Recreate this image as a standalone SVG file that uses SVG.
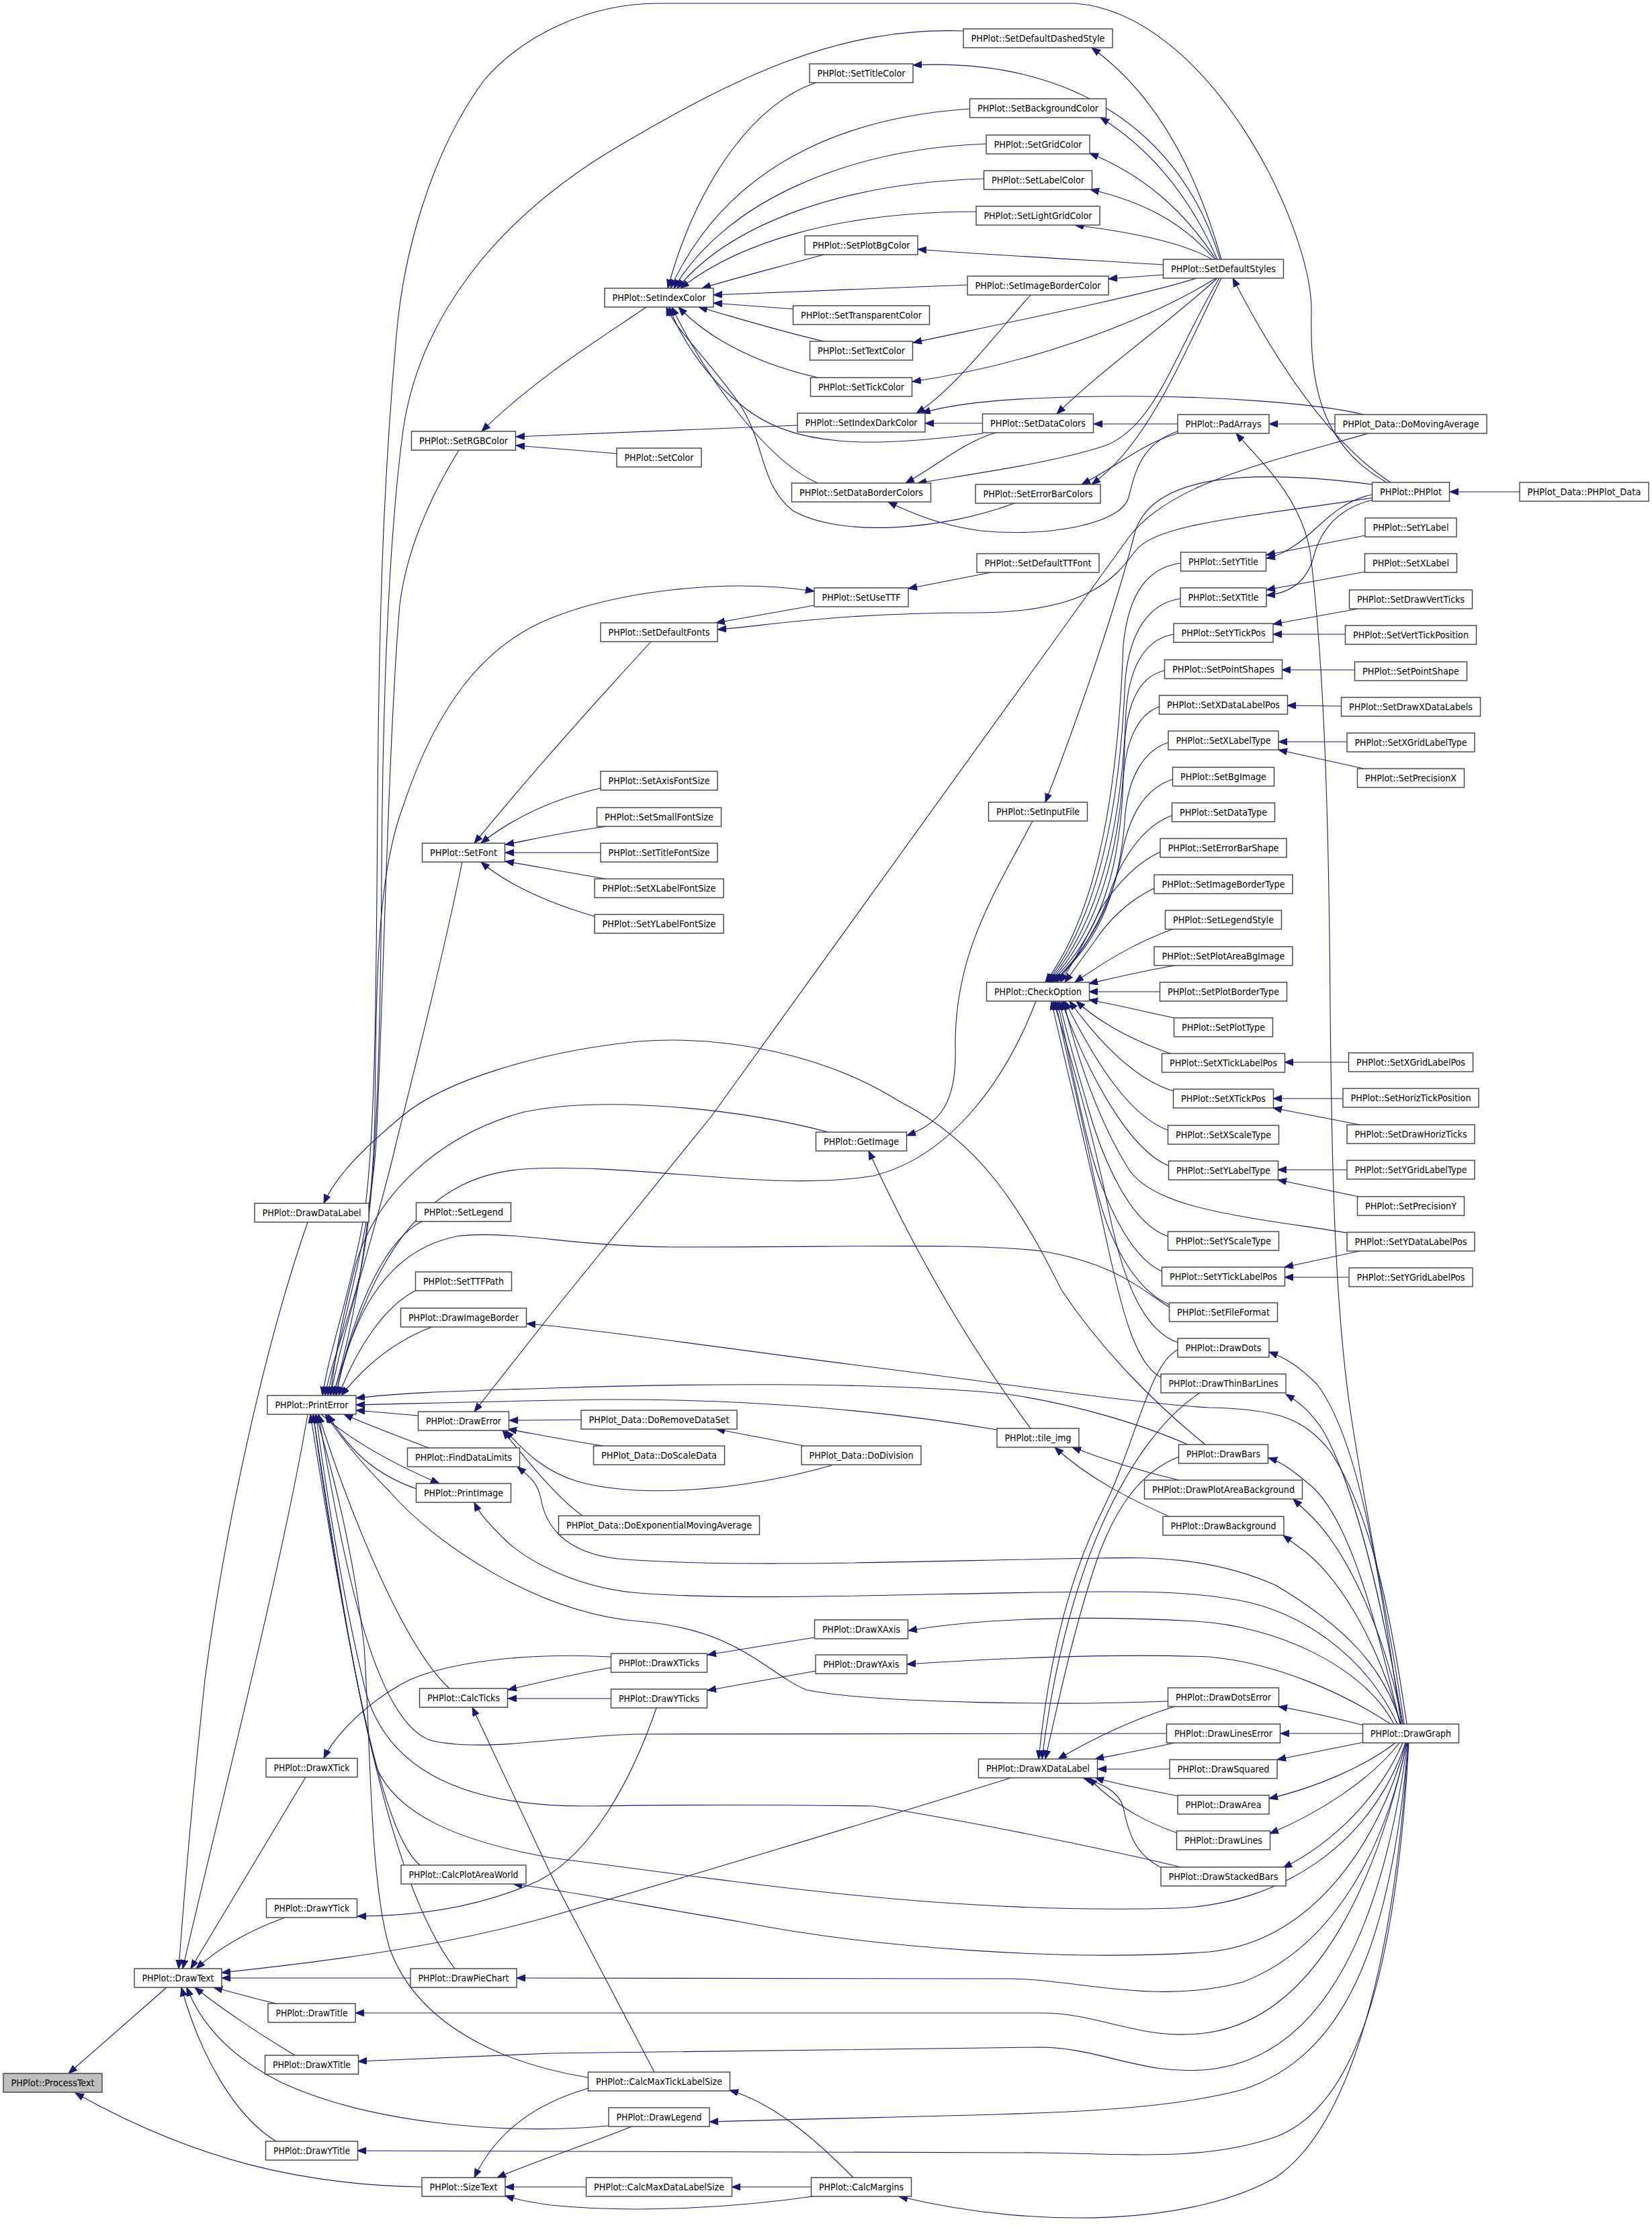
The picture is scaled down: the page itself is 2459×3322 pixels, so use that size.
<svg xmlns="http://www.w3.org/2000/svg" width="2459" height="3322" viewBox="0 0 2459 3322">
<style>
.node rect{fill:#fff;stroke:#404040;stroke-width:1.4}
.node.root rect{fill:#bfbfbf}
.node text{font-family:"DejaVu Sans Condensed","DejaVu Sans",sans-serif;font-size:14px;fill:#000;text-anchor:middle}
.edges path{fill:none;stroke:#191970;stroke-width:1.1;marker-end:url(#arr)}
</style>
<defs>
<marker id="arr" markerUnits="userSpaceOnUse" markerWidth="14" markerHeight="11" refX="13" refY="5" orient="auto"><path d="M0,0 L13,5 L0,10 z" fill="#191970" stroke="#191970" stroke-width="1"/></marker>
</defs>
<rect x="0" y="0" width="2459" height="3322" fill="#fff"/>
<g class="edges" id="edges">
<path d="M248,2958 L102,3086"/>
<path d="M628,3255 C450,3252 290,3215 112,3115"/>
<path d="M458,2105 C420,2330 320,2720 272,2930"/>
<path d="M458,1819 C395,2000 335,2270 305,2500 C290,2640 274,2820 266,2930"/>
<path d="M455,2645 L284,2930"/>
<path d="M424,2854 C380,2870 330,2895 292,2930"/>
<path d="M1505,2646 C1300,2710 1000,2800 820,2852 C650,2900 460,2922 330,2936"/>
<path d="M611,2944 L330,2944"/>
<path d="M411,2982 C380,2975 350,2966 318,2958"/>
<path d="M439,3059 C390,3030 330,2990 290,2958"/>
<path d="M906,3164 C750,3178 550,3160 420,3100 C340,3060 298,3010 278,2958"/>
<path d="M411,3187 C350,3150 298,3060 270,2958"/>
<path d="M2064,718 C1960,660 1950,560 1952,466 C1955,340 1800,20 1600,5 L980,5 C880,5 780,50 720,120 C640,230 600,380 590,500 C572,700 564,900 562,1200 C560,1500 558,1720 540,1820 C520,1930 490,2010 480,2077"/>
<path d="M1434,46 C1250,40 1100,110 900,230 C740,330 625,470 600,640 C580,790 570,1000 568,1300 C566,1600 558,1800 535,1900 C515,1980 492,2030 484,2077"/>
<path d="M683,670 C640,740 605,820 595,900 C578,1100 570,1500 560,1700 C550,1850 505,1980 488,2077"/>
<path d="M688,1283 C660,1420 620,1580 590,1700 C560,1830 515,1960 492,2077"/>
<path d="M496,2077 C530,1960 556,1800 558,1660 C560,1450 562,1300 600,1200 C650,1050 720,960 820,920 C920,880 1080,860 1212,880"/>
<path d="M630,1817 C580,1840 530,1930 500,2077"/>
<path d="M620,1920 C570,1945 530,2010 504,2077"/>
<path d="M643,1975 C590,1995 545,2030 508,2077"/>
<path d="M1233,1685 C1100,1650 900,1630 780,1655 C650,1690 560,1780 530,1880 C512,1950 498,2020 492,2077"/>
<path d="M1542,1490 C1500,1600 1420,1720 1300,1750 C1150,1775 950,1730 780,1740 C640,1750 560,1850 496,2077"/>
<path d="M1741,1946 C1700,1920 1660,1880 1550,1862 C1450,1850 1300,1856 1000,1856 C850,1855 760,1830 680,1840 C580,1860 525,1950 500,2077"/>
<path d="M1768,2150 C1700,2120 1600,2090 1500,2075 C1300,2055 1000,2060 820,2066 C700,2070 600,2072 530,2081"/>
<path d="M1484,2128 C1350,2105 1150,2082 900,2083 C750,2085 620,2089 530,2091"/>
<path d="M623,2107 L530,2099"/>
<path d="M638,2155 C600,2140 550,2122 512,2105"/>
<path d="M478,2105 C530,2150 600,2185 654,2208"/>
<path d="M620,2216 C560,2195 520,2160 488,2105"/>
<path d="M1739,2532 C1600,2538 1300,2536 1200,2515 C1140,2490 1100,2425 950,2413 C800,2400 650,2300 580,2220 C530,2170 505,2135 484,2105"/>
<path d="M1737,2580 L951,2581 C850,2582 720,2610 640,2590 C560,2560 515,2350 474,2105"/>
<path d="M1758,2779 C1700,2765 1500,2720 1300,2688 C1150,2686 1000,2686 880,2688 C700,2690 580,2640 545,2520 C515,2400 490,2250 470,2105"/>
<path d="M2092,2594 C2040,2750 1900,2835 1750,2840 C1400,2850 1100,2800 820,2765 C680,2740 590,2700 560,2630 C525,2500 490,2260 466,2105"/>
<path d="M625,2776 C570,2730 525,2500 462,2105"/>
<path d="M677,2930 C600,2830 535,2600 466,2105"/>
<path d="M875,3092 C740,3070 620,3010 580,2900 C550,2800 552,2600 542,2450 C525,2300 492,2180 470,2105"/>
<path d="M669,2513 C600,2450 520,2250 474,2105"/>
<path d="M962,457 C900,500 800,560 717,642"/>
<path d="M1187,633 L768,650"/>
<path d="M918,675 L768,663"/>
<path d="M1215,123 C1130,150 1040,260 994,429"/>
<path d="M1443,162 C1250,175 1080,250 998,429"/>
<path d="M1468,214 C1260,222 1080,300 1003,429"/>
<path d="M1464,266 C1260,272 1090,330 1008,429"/>
<path d="M1453,315 C1250,315 1100,360 1013,429"/>
<path d="M1226,379 C1150,400 1100,412 1045,429"/>
<path d="M1440,424 L1062,439"/>
<path d="M1181,460 L1062,451"/>
<path d="M1226,508 C1150,490 1100,474 1040,457"/>
<path d="M1218,562 C1140,545 1060,510 1010,457"/>
<path d="M1217,719 C1150,690 1060,580 1000,457"/>
<path d="M1463,645 C1300,665 1180,670 1100,600 C1050,560 1012,500 996,457"/>
<path d="M1510,749 C1400,790 1250,800 1180,760 C1130,720 1140,660 1100,600 C1050,530 1005,490 992,457"/>
<path d="M1818,386 C1780,250 1720,140 1625,71"/>
<path d="M1816,386 C1760,200 1600,85 1359,97"/>
<path d="M1812,386 C1770,290 1710,220 1638,175"/>
<path d="M1810,386 C1760,310 1700,260 1622,228"/>
<path d="M1808,386 C1760,330 1700,300 1623,282"/>
<path d="M1804,386 C1760,360 1680,345 1600,335"/>
<path d="M1731,394 C1600,386 1450,378 1366,371"/>
<path d="M1731,409 L1650,415"/>
<path d="M1781,414 C1700,440 1500,480 1359,510"/>
<path d="M1810,414 C1720,470 1550,540 1358,568"/>
<path d="M1812,414 C1740,480 1640,550 1573,616"/>
<path d="M1815,414 C1750,520 1720,640 1640,665 C1560,690 1450,705 1366,719"/>
<path d="M1818,414 C1760,530 1710,660 1625,721"/>
<path d="M2070,718 C1980,660 1900,540 1835,414"/>
<path d="M1987,631 L1889,631"/>
<path d="M1753,631 L1628,631"/>
<path d="M1753,642 C1700,660 1690,700 1680,740 C1670,780 1560,800 1460,790 C1400,782 1360,765 1322,747"/>
<path d="M1753,645 C1700,660 1670,690 1610,721"/>
<path d="M2090,2566 C2070,2420 2040,2300 2010,2100 C1985,1930 1982,1700 1980,1500 C1978,1200 1970,980 1950,820 C1935,740 1880,690 1840,645"/>
<path d="M2030,617 C1960,600 1800,588 1640,590 C1500,592 1420,600 1372,615"/>
<path d="M2037,645 C1880,690 1740,720 1680,800 L1060,1660 L820,1956 L706,2101"/>
<path d="M1534,439 C1480,500 1420,580 1364,615"/>
<path d="M1463,630 L1377,630"/>
<path d="M1482,644 C1430,660 1400,690 1348,719"/>
<path d="M2043,721 C1880,700 1720,700 1690,790 C1670,870 1620,1030 1556,1194"/>
<path d="M2043,741 C1850,770 1720,780 1690,820 C1660,860 1620,912 1450,912 C1250,912 1150,930 1068,937"/>
<path d="M2043,736 C1990,746 1960,790 1930,810 C1912,822 1900,828 1885,831"/>
<path d="M2043,744 C1990,757 1965,790 1955,830 C1945,865 1920,883 1885,886"/>
<path d="M2262,732 L2158,732"/>
<path d="M2032,797 L1885,826"/>
<path d="M2032,851 L1885,878"/>
<path d="M1212,901 L1066,927"/>
<path d="M1475,852 L1352,876"/>
<path d="M969,955 C900,1030 800,1140 706,1255"/>
<path d="M894,1173 C820,1190 760,1220 716,1255"/>
<path d="M902,1230 C830,1240 790,1250 752,1257"/>
<path d="M894,1269 L752,1269"/>
<path d="M902,1308 C830,1296 790,1288 752,1282"/>
<path d="M885,1364 C820,1345 760,1320 716,1283"/>
<path d="M1537,1222 C1480,1330 1420,1420 1422,1560 C1424,1640 1400,1672 1350,1690"/>
<path d="M1534,2126 C1440,2000 1360,1860 1293,1713"/>
<path d="M1794,2150 C1720,2090 1640,2010 1580,1920 C1520,1800 1460,1700 1340,1640 C1230,1570 1080,1540 950,1550 C800,1565 660,1610 600,1660 C540,1710 500,1750 482,1791"/>
<path d="M865,2113 L758,2114"/>
<path d="M898,2152 C850,2145 800,2135 756,2127"/>
<path d="M1238,2181 C1100,2220 950,2230 860,2205 C810,2190 780,2160 752,2129"/>
<path d="M867,2256 C830,2230 790,2180 748,2129"/>
<path d="M1197,2152 L1066,2127"/>
<path d="M2085,2566 C2060,2480 2000,2420 1900,2360 C1800,2315 1700,2318 1640,2319 C1400,2322 1100,2335 920,2320 C830,2310 810,2260 805,2230 C800,2205 785,2195 770,2183"/>
<path d="M2080,2566 C2040,2480 1960,2410 1860,2385 C1780,2368 1700,2369 1640,2369 C1400,2370 1100,2385 940,2370 C850,2360 780,2320 750,2290 C730,2270 715,2255 706,2236"/>
<path d="M2094,2566 C2070,2400 2040,2250 1980,2160 C1940,2110 1900,2097 1800,2095 C1700,2090 1500,2060 1300,2035 C1100,2010 900,1980 784,1970"/>
<path d="M2075,2566 C2030,2480 1900,2420 1780,2413 C1600,2403 1450,2410 1352,2427"/>
<path d="M2070,2566 C2000,2520 1900,2475 1800,2466 C1650,2460 1450,2470 1350,2477"/>
<path d="M1213,2437 L1053,2463"/>
<path d="M1214,2487 L1053,2516"/>
<path d="M910,2482 C850,2492 800,2505 756,2515"/>
<path d="M910,2528 L756,2528"/>
<path d="M910,2466 C800,2460 680,2470 610,2500 C550,2530 500,2580 482,2617"/>
<path d="M977,2542 C940,2650 880,2760 800,2800 C700,2845 600,2852 532,2852"/>
<path d="M974,3084 L820,2790 L703,2541"/>
<path d="M876,3108 C800,3130 740,3170 706,3241"/>
<path d="M940,3165 C880,3190 800,3215 740,3241"/>
<path d="M872,3255 L752,3255"/>
<path d="M1217,3268 C1100,3285 950,3295 820,3282 C790,3278 770,3274 752,3268"/>
<path d="M1270,3241 C1210,3180 1150,3130 1086,3111"/>
<path d="M1208,3255 L1089,3255"/>
<path d="M2096,2594 C2080,2850 2030,3150 1900,3240 C1780,3310 1550,3320 1338,3269"/>
<path d="M2094,2594 C2060,2760 1980,2900 1850,2950 C1720,2985 1600,2945 1500,2945 L769,2944"/>
<path d="M2094,2594 C2050,2800 1960,3000 1800,3025 C1700,3040 1640,2996 1550,2996 L529,2996"/>
<path d="M2095,2594 C2060,2850 1980,3060 1800,3080 C1700,3090 1640,3048 1550,3047 L820,3056 L533,3068"/>
<path d="M2096,2594 C2070,2900 2000,3060 1850,3110 C1700,3150 1500,3145 1056,3158"/>
<path d="M2097,2594 C2080,2900 2030,3130 1900,3180 C1800,3215 1700,3207 1550,3204 L532,3201"/>
<path d="M2093,2594 C2050,2750 1950,2890 1800,2905 C1600,2920 1300,2900 1100,2860 C950,2835 850,2815 764,2804"/>
<path d="M2030,2568 C1980,2555 1950,2548 1903,2540"/>
<path d="M2029,2580 L1906,2580"/>
<path d="M2030,2593 L1901,2619"/>
<path d="M2077,2594 C2030,2630 1960,2660 1889,2677"/>
<path d="M2083,2594 C2040,2650 1960,2700 1890,2729"/>
<path d="M2088,2594 C2050,2680 1980,2745 1910,2780"/>
<path d="M2086,2566 C2060,2400 2030,2150 1960,2060 C1930,2030 1910,2020 1889,2012"/>
<path d="M2088,2566 C2060,2400 2020,2220 1970,2130 C1950,2100 1935,2088 1914,2075"/>
<path d="M2084,2566 C2050,2420 2010,2260 1950,2210 C1920,2185 1905,2175 1888,2170"/>
<path d="M2088,2566 C2060,2420 2000,2300 1945,2250 L1925,2231"/>
<path d="M2085,2566 C2050,2440 1990,2340 1930,2300 L1910,2285"/>
<path d="M1755,2203 C1700,2190 1650,2175 1596,2154"/>
<path d="M1740,2257 C1680,2230 1620,2200 1570,2154"/>
<path d="M1748,2540 C1700,2555 1640,2580 1575,2618"/>
<path d="M1748,2594 C1700,2605 1660,2612 1630,2618"/>
<path d="M1741,2633 L1634,2633"/>
<path d="M1753,2673 C1700,2662 1660,2655 1630,2646"/>
<path d="M1752,2728 C1700,2710 1670,2690 1640,2665 L1620,2646"/>
<path d="M1729,2780 C1690,2760 1680,2730 1672,2690 C1665,2665 1640,2655 1612,2646"/>
<path d="M1753,2009 C1710,2030 1690,2150 1640,2250 C1590,2350 1560,2480 1546,2618"/>
<path d="M1786,2073 C1730,2110 1680,2180 1640,2270 C1600,2360 1568,2480 1551,2618"/>
<path d="M1755,2168 C1700,2190 1660,2240 1630,2330 C1600,2420 1578,2520 1556,2618"/>
<path d="M2022,906 L1895,929"/>
<path d="M2002,944 L1895,944"/>
<path d="M2016,997 L1908,997"/>
<path d="M1996,1051 L1916,1050"/>
<path d="M2005,1104 L1903,1104"/>
<path d="M2030,1144 L1903,1116"/>
<path d="M2007,1581 L1912,1581"/>
<path d="M1999,1635 L1895,1635"/>
<path d="M2024,1674 L1895,1649"/>
<path d="M2005,1741 L1902,1741"/>
<path d="M2022,1781 L1902,1756"/>
<path d="M2024,1862 L1912,1886"/>
<path d="M2008,1901 L1912,1901"/>
<path d="M1757,838 C1710,845 1680,880 1672,960 C1665,1150 1640,1350 1556,1462"/>
<path d="M1757,891 C1710,898 1682,940 1675,1010 C1668,1180 1640,1360 1558,1462"/>
<path d="M1747,944 C1700,952 1680,1000 1676,1060 C1670,1220 1640,1370 1560,1462"/>
<path d="M1733,998 C1690,1008 1676,1060 1674,1110 C1670,1250 1640,1380 1562,1462"/>
<path d="M1725,1052 C1690,1065 1675,1110 1672,1160 C1668,1290 1640,1390 1564,1462"/>
<path d="M1739,1105 C1700,1118 1680,1160 1675,1210 C1668,1320 1640,1400 1566,1462"/>
<path d="M1745,1160 C1700,1175 1680,1220 1670,1270 C1655,1350 1620,1410 1568,1462"/>
<path d="M1744,1214 C1700,1230 1670,1280 1655,1320 C1640,1370 1610,1420 1572,1462"/>
<path d="M1727,1268 C1690,1285 1660,1320 1640,1350 C1620,1390 1600,1430 1578,1462"/>
<path d="M1718,1322 C1680,1340 1650,1370 1630,1400 L1585,1462"/>
<path d="M1745,1383 C1700,1400 1660,1420 1600,1462"/>
<path d="M1750,1437 C1700,1445 1660,1455 1621,1464"/>
<path d="M1726,1476 L1621,1476"/>
<path d="M1748,1515 C1700,1505 1660,1495 1621,1488"/>
<path d="M1745,1569 C1690,1550 1640,1525 1602,1490"/>
<path d="M1747,1624 C1700,1610 1650,1570 1592,1490"/>
<path d="M1738,1682 C1680,1660 1630,1580 1585,1490"/>
<path d="M1739,1735 C1680,1710 1620,1600 1580,1490"/>
<path d="M1738,1840 C1680,1820 1640,1720 1620,1650 C1600,1580 1585,1530 1577,1490"/>
<path d="M1729,1892 C1680,1870 1640,1780 1620,1700 C1600,1620 1585,1540 1574,1490"/>
<path d="M1741,1942 C1690,1920 1650,1850 1630,1760 C1610,1660 1585,1560 1571,1490"/>
<path d="M2006,1835 C1850,1810 1720,1800 1680,1740 C1630,1660 1600,1560 1583,1490"/>
<path d="M1753,1998 C1700,1980 1670,1900 1650,1800 C1625,1680 1590,1560 1568,1490"/>
<path d="M1728,2050 C1690,2030 1670,1950 1650,1860 C1620,1720 1585,1580 1565,1490"/>
</g>
<g class="node root" id="n_ProcessText"><rect x="5" y="3086" width="147" height="28"/><text x="78.5" y="3105" textLength="124" lengthAdjust="spacingAndGlyphs">PHPlot::ProcessText</text></g>
<g class="node" id="n_DrawText"><rect x="200" y="2930" width="130" height="28"/><text x="265" y="2949" textLength="107" lengthAdjust="spacingAndGlyphs">PHPlot::DrawText</text></g>
<g class="node" id="n_DrawDataLabel"><rect x="379" y="1791" width="170" height="28"/><text x="464" y="1810" textLength="147" lengthAdjust="spacingAndGlyphs">PHPlot::DrawDataLabel</text></g>
<g class="node" id="n_PrintError"><rect x="398" y="2077" width="132" height="28"/><text x="464" y="2096" textLength="109" lengthAdjust="spacingAndGlyphs">PHPlot::PrintError</text></g>
<g class="node" id="n_DrawXTick"><rect x="396" y="2617" width="136" height="28"/><text x="464" y="2636" textLength="113" lengthAdjust="spacingAndGlyphs">PHPlot::DrawXTick</text></g>
<g class="node" id="n_DrawYTick"><rect x="396.5" y="2826" width="135" height="28"/><text x="464" y="2845" textLength="112" lengthAdjust="spacingAndGlyphs">PHPlot::DrawYTick</text></g>
<g class="node" id="n_DrawTitle"><rect x="399" y="2982" width="130" height="28"/><text x="464" y="3001" textLength="107" lengthAdjust="spacingAndGlyphs">PHPlot::DrawTitle</text></g>
<g class="node" id="n_DrawXTitle"><rect x="394.5" y="3059" width="139" height="28"/><text x="464" y="3078" textLength="116" lengthAdjust="spacingAndGlyphs">PHPlot::DrawXTitle</text></g>
<g class="node" id="n_DrawYTitle"><rect x="395.5" y="3187" width="137" height="28"/><text x="464" y="3206" textLength="114" lengthAdjust="spacingAndGlyphs">PHPlot::DrawYTitle</text></g>
<g class="node" id="n_SetRGBColor"><rect x="612.5" y="642" width="155" height="28"/><text x="690" y="661" textLength="132" lengthAdjust="spacingAndGlyphs">PHPlot::SetRGBColor</text></g>
<g class="node" id="n_SetFont"><rect x="628.5" y="1255" width="123" height="28"/><text x="690" y="1274" textLength="100" lengthAdjust="spacingAndGlyphs">PHPlot::SetFont</text></g>
<g class="node" id="n_SetLegend"><rect x="619.5" y="1790" width="141" height="28"/><text x="690" y="1809" textLength="118" lengthAdjust="spacingAndGlyphs">PHPlot::SetLegend</text></g>
<g class="node" id="n_SetTTFPath"><rect x="618.5" y="1893" width="143" height="28"/><text x="690" y="1912" textLength="120" lengthAdjust="spacingAndGlyphs">PHPlot::SetTTFPath</text></g>
<g class="node" id="n_DrawImageBorder"><rect x="596.5" y="1947" width="187" height="28"/><text x="690" y="1966" textLength="164" lengthAdjust="spacingAndGlyphs">PHPlot::DrawImageBorder</text></g>
<g class="node" id="n_DrawError"><rect x="622.5" y="2101" width="135" height="28"/><text x="690" y="2120" textLength="112" lengthAdjust="spacingAndGlyphs">PHPlot::DrawError</text></g>
<g class="node" id="n_FindDataLimits"><rect x="606.5" y="2155" width="167" height="28"/><text x="690" y="2174" textLength="144" lengthAdjust="spacingAndGlyphs">PHPlot::FindDataLimits</text></g>
<g class="node" id="n_PrintImage"><rect x="619.5" y="2208" width="141" height="28"/><text x="690" y="2227" textLength="118" lengthAdjust="spacingAndGlyphs">PHPlot::PrintImage</text></g>
<g class="node" id="n_CalcTicks"><rect x="624.5" y="2513" width="131" height="28"/><text x="690" y="2532" textLength="108" lengthAdjust="spacingAndGlyphs">PHPlot::CalcTicks</text></g>
<g class="node" id="n_CalcPlotAreaWorld"><rect x="597" y="2776" width="186" height="28"/><text x="690" y="2795" textLength="163" lengthAdjust="spacingAndGlyphs">PHPlot::CalcPlotAreaWorld</text></g>
<g class="node" id="n_DrawPieChart"><rect x="611" y="2930" width="158" height="28"/><text x="690" y="2949" textLength="135" lengthAdjust="spacingAndGlyphs">PHPlot::DrawPieChart</text></g>
<g class="node" id="n_SizeText"><rect x="628" y="3241" width="124" height="28"/><text x="690" y="3260" textLength="101" lengthAdjust="spacingAndGlyphs">PHPlot::SizeText</text></g>
<g class="node" id="n_SetIndexColor"><rect x="900" y="429" width="162" height="28"/><text x="981" y="448" textLength="139" lengthAdjust="spacingAndGlyphs">PHPlot::SetIndexColor</text></g>
<g class="node" id="n_SetColor"><rect x="918" y="667" width="126" height="28"/><text x="981" y="686" textLength="103" lengthAdjust="spacingAndGlyphs">PHPlot::SetColor</text></g>
<g class="node" id="n_SetDefaultFonts"><rect x="894" y="927" width="174" height="28"/><text x="981" y="946" textLength="151" lengthAdjust="spacingAndGlyphs">PHPlot::SetDefaultFonts</text></g>
<g class="node" id="n_SetAxisFontSize"><rect x="894" y="1148" width="174" height="28"/><text x="981" y="1167" textLength="151" lengthAdjust="spacingAndGlyphs">PHPlot::SetAxisFontSize</text></g>
<g class="node" id="n_SetSmallFontSize"><rect x="888.5" y="1202" width="185" height="28"/><text x="981" y="1221" textLength="162" lengthAdjust="spacingAndGlyphs">PHPlot::SetSmallFontSize</text></g>
<g class="node" id="n_SetTitleFontSize"><rect x="894" y="1255" width="174" height="28"/><text x="981" y="1274" textLength="151" lengthAdjust="spacingAndGlyphs">PHPlot::SetTitleFontSize</text></g>
<g class="node" id="n_SetXLabelFontSize"><rect x="885" y="1308" width="192" height="28"/><text x="981" y="1327" textLength="169" lengthAdjust="spacingAndGlyphs">PHPlot::SetXLabelFontSize</text></g>
<g class="node" id="n_SetYLabelFontSize"><rect x="885" y="1361" width="192" height="28"/><text x="981" y="1380" textLength="169" lengthAdjust="spacingAndGlyphs">PHPlot::SetYLabelFontSize</text></g>
<g class="node" id="n_DoRemoveDataSet"><rect x="865" y="2099" width="232" height="28"/><text x="981" y="2118" textLength="209" lengthAdjust="spacingAndGlyphs">PHPlot_Data::DoRemoveDataSet</text></g>
<g class="node" id="n_DoScaleData"><rect x="883.5" y="2152" width="195" height="28"/><text x="981" y="2171" textLength="172" lengthAdjust="spacingAndGlyphs">PHPlot_Data::DoScaleData</text></g>
<g class="node" id="n_DoExponentialMovingAverage"><rect x="831.5" y="2256" width="299" height="28"/><text x="981" y="2275" textLength="276" lengthAdjust="spacingAndGlyphs">PHPlot_Data::DoExponentialMovingAverage</text></g>
<g class="node" id="n_DrawXTicks"><rect x="909.5" y="2461" width="143" height="28"/><text x="981" y="2480" textLength="120" lengthAdjust="spacingAndGlyphs">PHPlot::DrawXTicks</text></g>
<g class="node" id="n_DrawYTicks"><rect x="909.5" y="2514" width="143" height="28"/><text x="981" y="2533" textLength="120" lengthAdjust="spacingAndGlyphs">PHPlot::DrawYTicks</text></g>
<g class="node" id="n_CalcMaxTickLabelSize"><rect x="875.5" y="3084" width="211" height="28"/><text x="981" y="3103" textLength="188" lengthAdjust="spacingAndGlyphs">PHPlot::CalcMaxTickLabelSize</text></g>
<g class="node" id="n_DrawLegend"><rect x="906" y="3137" width="150" height="28"/><text x="981" y="3156" textLength="127" lengthAdjust="spacingAndGlyphs">PHPlot::DrawLegend</text></g>
<g class="node" id="n_CalcMaxDataLabelSize"><rect x="872.5" y="3241" width="217" height="28"/><text x="981" y="3260" textLength="194" lengthAdjust="spacingAndGlyphs">PHPlot::CalcMaxDataLabelSize</text></g>
<g class="node" id="n_SetTitleColor"><rect x="1205" y="95" width="154" height="28"/><text x="1282" y="114" textLength="131" lengthAdjust="spacingAndGlyphs">PHPlot::SetTitleColor</text></g>
<g class="node" id="n_SetPlotBgColor"><rect x="1198" y="351" width="168" height="28"/><text x="1282" y="370" textLength="145" lengthAdjust="spacingAndGlyphs">PHPlot::SetPlotBgColor</text></g>
<g class="node" id="n_SetTransparentColor"><rect x="1180.5" y="455" width="203" height="28"/><text x="1282" y="474" textLength="180" lengthAdjust="spacingAndGlyphs">PHPlot::SetTransparentColor</text></g>
<g class="node" id="n_SetTextColor"><rect x="1205.5" y="508" width="153" height="28"/><text x="1282" y="527" textLength="130" lengthAdjust="spacingAndGlyphs">PHPlot::SetTextColor</text></g>
<g class="node" id="n_SetTickColor"><rect x="1206.5" y="562" width="151" height="28"/><text x="1282" y="581" textLength="128" lengthAdjust="spacingAndGlyphs">PHPlot::SetTickColor</text></g>
<g class="node" id="n_SetIndexDarkColor"><rect x="1187" y="615" width="190" height="28"/><text x="1282" y="634" textLength="167" lengthAdjust="spacingAndGlyphs">PHPlot::SetIndexDarkColor</text></g>
<g class="node" id="n_SetDataBorderColors"><rect x="1178.5" y="719" width="207" height="28"/><text x="1282" y="738" textLength="184" lengthAdjust="spacingAndGlyphs">PHPlot::SetDataBorderColors</text></g>
<g class="node" id="n_SetUseTTF"><rect x="1212" y="875" width="140" height="28"/><text x="1282" y="894" textLength="117" lengthAdjust="spacingAndGlyphs">PHPlot::SetUseTTF</text></g>
<g class="node" id="n_GetImage"><rect x="1214.5" y="1685" width="135" height="28"/><text x="1282" y="1704" textLength="112" lengthAdjust="spacingAndGlyphs">PHPlot::GetImage</text></g>
<g class="node" id="n_DoDivision"><rect x="1193" y="2152" width="178" height="28"/><text x="1282" y="2171" textLength="155" lengthAdjust="spacingAndGlyphs">PHPlot_Data::DoDivision</text></g>
<g class="node" id="n_DrawXAxis"><rect x="1212.5" y="2411" width="139" height="28"/><text x="1282" y="2430" textLength="116" lengthAdjust="spacingAndGlyphs">PHPlot::DrawXAxis</text></g>
<g class="node" id="n_DrawYAxis"><rect x="1214" y="2463" width="136" height="28"/><text x="1282" y="2482" textLength="113" lengthAdjust="spacingAndGlyphs">PHPlot::DrawYAxis</text></g>
<g class="node" id="n_CalcMargins"><rect x="1207.5" y="3241" width="149" height="28"/><text x="1282" y="3260" textLength="126" lengthAdjust="spacingAndGlyphs">PHPlot::CalcMargins</text></g>
<g class="node" id="n_SetDefaultDashedStyle"><rect x="1434" y="43" width="222" height="28"/><text x="1545" y="62" textLength="199" lengthAdjust="spacingAndGlyphs">PHPlot::SetDefaultDashedStyle</text></g>
<g class="node" id="n_SetBackgroundColor"><rect x="1443.5" y="147" width="203" height="28"/><text x="1545" y="166" textLength="180" lengthAdjust="spacingAndGlyphs">PHPlot::SetBackgroundColor</text></g>
<g class="node" id="n_SetGridColor"><rect x="1468" y="201" width="154" height="28"/><text x="1545" y="220" textLength="131" lengthAdjust="spacingAndGlyphs">PHPlot::SetGridColor</text></g>
<g class="node" id="n_SetLabelColor"><rect x="1464.5" y="254" width="161" height="28"/><text x="1545" y="273" textLength="138" lengthAdjust="spacingAndGlyphs">PHPlot::SetLabelColor</text></g>
<g class="node" id="n_SetLightGridColor"><rect x="1453" y="307" width="184" height="28"/><text x="1545" y="326" textLength="161" lengthAdjust="spacingAndGlyphs">PHPlot::SetLightGridColor</text></g>
<g class="node" id="n_SetImageBorderColor"><rect x="1440" y="411" width="210" height="28"/><text x="1545" y="430" textLength="187" lengthAdjust="spacingAndGlyphs">PHPlot::SetImageBorderColor</text></g>
<g class="node" id="n_SetDataColors"><rect x="1462.5" y="616" width="165" height="28"/><text x="1545" y="635" textLength="142" lengthAdjust="spacingAndGlyphs">PHPlot::SetDataColors</text></g>
<g class="node" id="n_SetErrorBarColors"><rect x="1452" y="721" width="186" height="28"/><text x="1545" y="740" textLength="163" lengthAdjust="spacingAndGlyphs">PHPlot::SetErrorBarColors</text></g>
<g class="node" id="n_SetDefaultTTFont"><rect x="1454" y="824" width="182" height="28"/><text x="1545" y="843" textLength="159" lengthAdjust="spacingAndGlyphs">PHPlot::SetDefaultTTFont</text></g>
<g class="node" id="n_SetInputFile"><rect x="1471.5" y="1194" width="147" height="28"/><text x="1545" y="1213" textLength="124" lengthAdjust="spacingAndGlyphs">PHPlot::SetInputFile</text></g>
<g class="node" id="n_CheckOption"><rect x="1468.5" y="1462" width="153" height="28"/><text x="1545" y="1481" textLength="130" lengthAdjust="spacingAndGlyphs">PHPlot::CheckOption</text></g>
<g class="node" id="n_tile_img"><rect x="1484" y="2126" width="122" height="28"/><text x="1545" y="2145" textLength="99" lengthAdjust="spacingAndGlyphs">PHPlot::tile_img</text></g>
<g class="node" id="n_DrawXDataLabel"><rect x="1456.5" y="2618" width="177" height="28"/><text x="1545" y="2637" textLength="154" lengthAdjust="spacingAndGlyphs">PHPlot::DrawXDataLabel</text></g>
<g class="node" id="n_SetDefaultStyles"><rect x="1731.5" y="386" width="179" height="28"/><text x="1821" y="405" textLength="156" lengthAdjust="spacingAndGlyphs">PHPlot::SetDefaultStyles</text></g>
<g class="node" id="n_PadArrays"><rect x="1753" y="617" width="136" height="28"/><text x="1821" y="636" textLength="113" lengthAdjust="spacingAndGlyphs">PHPlot::PadArrays</text></g>
<g class="node" id="n_SetYTitle"><rect x="1757.5" y="822" width="127" height="28"/><text x="1821" y="841" textLength="104" lengthAdjust="spacingAndGlyphs">PHPlot::SetYTitle</text></g>
<g class="node" id="n_SetXTitle"><rect x="1757" y="875" width="128" height="28"/><text x="1821" y="894" textLength="105" lengthAdjust="spacingAndGlyphs">PHPlot::SetXTitle</text></g>
<g class="node" id="n_SetYTickPos"><rect x="1747" y="928" width="148" height="28"/><text x="1821" y="947" textLength="125" lengthAdjust="spacingAndGlyphs">PHPlot::SetYTickPos</text></g>
<g class="node" id="n_SetPointShapes"><rect x="1733.5" y="982" width="175" height="28"/><text x="1821" y="1001" textLength="152" lengthAdjust="spacingAndGlyphs">PHPlot::SetPointShapes</text></g>
<g class="node" id="n_SetXDataLabelPos"><rect x="1725.5" y="1035" width="191" height="28"/><text x="1821" y="1054" textLength="168" lengthAdjust="spacingAndGlyphs">PHPlot::SetXDataLabelPos</text></g>
<g class="node" id="n_SetXLabelType"><rect x="1739" y="1088" width="164" height="28"/><text x="1821" y="1107" textLength="141" lengthAdjust="spacingAndGlyphs">PHPlot::SetXLabelType</text></g>
<g class="node" id="n_SetBgImage"><rect x="1745.5" y="1142" width="151" height="28"/><text x="1821" y="1161" textLength="128" lengthAdjust="spacingAndGlyphs">PHPlot::SetBgImage</text></g>
<g class="node" id="n_SetDataType"><rect x="1744.5" y="1195" width="153" height="28"/><text x="1821" y="1214" textLength="130" lengthAdjust="spacingAndGlyphs">PHPlot::SetDataType</text></g>
<g class="node" id="n_SetErrorBarShape"><rect x="1727" y="1248" width="188" height="28"/><text x="1821" y="1267" textLength="165" lengthAdjust="spacingAndGlyphs">PHPlot::SetErrorBarShape</text></g>
<g class="node" id="n_SetImageBorderType"><rect x="1718" y="1302" width="206" height="28"/><text x="1821" y="1321" textLength="183" lengthAdjust="spacingAndGlyphs">PHPlot::SetImageBorderType</text></g>
<g class="node" id="n_SetLegendStyle"><rect x="1734.5" y="1355" width="173" height="28"/><text x="1821" y="1374" textLength="150" lengthAdjust="spacingAndGlyphs">PHPlot::SetLegendStyle</text></g>
<g class="node" id="n_SetPlotAreaBgImage"><rect x="1718" y="1409" width="206" height="28"/><text x="1821" y="1428" textLength="183" lengthAdjust="spacingAndGlyphs">PHPlot::SetPlotAreaBgImage</text></g>
<g class="node" id="n_SetPlotBorderType"><rect x="1726.5" y="1462" width="189" height="28"/><text x="1821" y="1481" textLength="166" lengthAdjust="spacingAndGlyphs">PHPlot::SetPlotBorderType</text></g>
<g class="node" id="n_SetPlotType"><rect x="1747.5" y="1515" width="147" height="28"/><text x="1821" y="1534" textLength="124" lengthAdjust="spacingAndGlyphs">PHPlot::SetPlotType</text></g>
<g class="node" id="n_SetXTickLabelPos"><rect x="1729.5" y="1568" width="183" height="28"/><text x="1821" y="1587" textLength="160" lengthAdjust="spacingAndGlyphs">PHPlot::SetXTickLabelPos</text></g>
<g class="node" id="n_SetXTickPos"><rect x="1746.5" y="1621" width="149" height="28"/><text x="1821" y="1640" textLength="126" lengthAdjust="spacingAndGlyphs">PHPlot::SetXTickPos</text></g>
<g class="node" id="n_SetXScaleType"><rect x="1738.5" y="1675" width="165" height="28"/><text x="1821" y="1694" textLength="142" lengthAdjust="spacingAndGlyphs">PHPlot::SetXScaleType</text></g>
<g class="node" id="n_SetYLabelType"><rect x="1739.5" y="1728" width="163" height="28"/><text x="1821" y="1747" textLength="140" lengthAdjust="spacingAndGlyphs">PHPlot::SetYLabelType</text></g>
<g class="node" id="n_SetYScaleType"><rect x="1738.5" y="1833" width="165" height="28"/><text x="1821" y="1852" textLength="142" lengthAdjust="spacingAndGlyphs">PHPlot::SetYScaleType</text></g>
<g class="node" id="n_SetYTickLabelPos"><rect x="1729.5" y="1886" width="183" height="28"/><text x="1821" y="1905" textLength="160" lengthAdjust="spacingAndGlyphs">PHPlot::SetYTickLabelPos</text></g>
<g class="node" id="n_SetFileFormat"><rect x="1740.5" y="1939" width="161" height="28"/><text x="1821" y="1958" textLength="138" lengthAdjust="spacingAndGlyphs">PHPlot::SetFileFormat</text></g>
<g class="node" id="n_DrawDots"><rect x="1753" y="1992" width="136" height="28"/><text x="1821" y="2011" textLength="113" lengthAdjust="spacingAndGlyphs">PHPlot::DrawDots</text></g>
<g class="node" id="n_DrawThinBarLines"><rect x="1728" y="2045" width="186" height="28"/><text x="1821" y="2064" textLength="163" lengthAdjust="spacingAndGlyphs">PHPlot::DrawThinBarLines</text></g>
<g class="node" id="n_DrawBars"><rect x="1754.5" y="2150" width="133" height="28"/><text x="1821" y="2169" textLength="110" lengthAdjust="spacingAndGlyphs">PHPlot::DrawBars</text></g>
<g class="node" id="n_DrawPlotAreaBackground"><rect x="1703.5" y="2203" width="235" height="28"/><text x="1821" y="2222" textLength="212" lengthAdjust="spacingAndGlyphs">PHPlot::DrawPlotAreaBackground</text></g>
<g class="node" id="n_DrawBackground"><rect x="1731" y="2257" width="180" height="28"/><text x="1821" y="2276" textLength="157" lengthAdjust="spacingAndGlyphs">PHPlot::DrawBackground</text></g>
<g class="node" id="n_DrawDotsError"><rect x="1738.5" y="2512" width="165" height="28"/><text x="1821" y="2531" textLength="142" lengthAdjust="spacingAndGlyphs">PHPlot::DrawDotsError</text></g>
<g class="node" id="n_DrawLinesError"><rect x="1736.5" y="2566" width="169" height="28"/><text x="1821" y="2585" textLength="146" lengthAdjust="spacingAndGlyphs">PHPlot::DrawLinesError</text></g>
<g class="node" id="n_DrawSquared"><rect x="1741" y="2619" width="160" height="28"/><text x="1821" y="2638" textLength="137" lengthAdjust="spacingAndGlyphs">PHPlot::DrawSquared</text></g>
<g class="node" id="n_DrawArea"><rect x="1753" y="2672" width="136" height="28"/><text x="1821" y="2691" textLength="113" lengthAdjust="spacingAndGlyphs">PHPlot::DrawArea</text></g>
<g class="node" id="n_DrawLines"><rect x="1751.5" y="2725" width="139" height="28"/><text x="1821" y="2744" textLength="116" lengthAdjust="spacingAndGlyphs">PHPlot::DrawLines</text></g>
<g class="node" id="n_DrawStackedBars"><rect x="1728" y="2779" width="186" height="28"/><text x="1821" y="2798" textLength="163" lengthAdjust="spacingAndGlyphs">PHPlot::DrawStackedBars</text></g>
<g class="node" id="n_DoMovingAverage"><rect x="1987" y="617" width="226" height="28"/><text x="2100" y="636" textLength="203" lengthAdjust="spacingAndGlyphs">PHPlot_Data::DoMovingAverage</text></g>
<g class="node" id="n_PHPlot"><rect x="2042.5" y="718" width="115" height="28"/><text x="2100" y="737" textLength="92" lengthAdjust="spacingAndGlyphs">PHPlot::PHPlot</text></g>
<g class="node" id="n_SetYLabel"><rect x="2032" y="771" width="136" height="28"/><text x="2100" y="790" textLength="113" lengthAdjust="spacingAndGlyphs">PHPlot::SetYLabel</text></g>
<g class="node" id="n_SetXLabel"><rect x="2031.5" y="824" width="137" height="28"/><text x="2100" y="843" textLength="114" lengthAdjust="spacingAndGlyphs">PHPlot::SetXLabel</text></g>
<g class="node" id="n_SetDrawVertTicks"><rect x="2008.5" y="878" width="183" height="28"/><text x="2100" y="897" textLength="160" lengthAdjust="spacingAndGlyphs">PHPlot::SetDrawVertTicks</text></g>
<g class="node" id="n_SetVertTickPosition"><rect x="2002.5" y="931" width="195" height="28"/><text x="2100" y="950" textLength="172" lengthAdjust="spacingAndGlyphs">PHPlot::SetVertTickPosition</text></g>
<g class="node" id="n_SetPointShape"><rect x="2016.5" y="985" width="167" height="28"/><text x="2100" y="1004" textLength="144" lengthAdjust="spacingAndGlyphs">PHPlot::SetPointShape</text></g>
<g class="node" id="n_SetDrawXDataLabels"><rect x="1996.5" y="1038" width="207" height="28"/><text x="2100" y="1057" textLength="184" lengthAdjust="spacingAndGlyphs">PHPlot::SetDrawXDataLabels</text></g>
<g class="node" id="n_SetXGridLabelType"><rect x="2005" y="1091" width="190" height="28"/><text x="2100" y="1110" textLength="167" lengthAdjust="spacingAndGlyphs">PHPlot::SetXGridLabelType</text></g>
<g class="node" id="n_SetPrecisionX"><rect x="2020.5" y="1144" width="159" height="28"/><text x="2100" y="1163" textLength="136" lengthAdjust="spacingAndGlyphs">PHPlot::SetPrecisionX</text></g>
<g class="node" id="n_SetXGridLabelPos"><rect x="2007.5" y="1567" width="185" height="28"/><text x="2100" y="1586" textLength="162" lengthAdjust="spacingAndGlyphs">PHPlot::SetXGridLabelPos</text></g>
<g class="node" id="n_SetHorizTickPosition"><rect x="1999" y="1620" width="202" height="28"/><text x="2100" y="1639" textLength="179" lengthAdjust="spacingAndGlyphs">PHPlot::SetHorizTickPosition</text></g>
<g class="node" id="n_SetDrawHorizTicks"><rect x="2005" y="1674" width="190" height="28"/><text x="2100" y="1693" textLength="167" lengthAdjust="spacingAndGlyphs">PHPlot::SetDrawHorizTicks</text></g>
<g class="node" id="n_SetYGridLabelType"><rect x="2005" y="1727" width="190" height="28"/><text x="2100" y="1746" textLength="167" lengthAdjust="spacingAndGlyphs">PHPlot::SetYGridLabelType</text></g>
<g class="node" id="n_SetPrecisionY"><rect x="2020.5" y="1781" width="159" height="28"/><text x="2100" y="1800" textLength="136" lengthAdjust="spacingAndGlyphs">PHPlot::SetPrecisionY</text></g>
<g class="node" id="n_SetYDataLabelPos"><rect x="2005" y="1834" width="190" height="28"/><text x="2100" y="1853" textLength="167" lengthAdjust="spacingAndGlyphs">PHPlot::SetYDataLabelPos</text></g>
<g class="node" id="n_SetYGridLabelPos"><rect x="2008" y="1887" width="184" height="28"/><text x="2100" y="1906" textLength="161" lengthAdjust="spacingAndGlyphs">PHPlot::SetYGridLabelPos</text></g>
<g class="node" id="n_DrawGraph"><rect x="2028.5" y="2566" width="143" height="28"/><text x="2100" y="2585" textLength="120" lengthAdjust="spacingAndGlyphs">PHPlot::DrawGraph</text></g>
<g class="node" id="n_PHPlot_Data"><rect x="2262" y="718" width="192" height="28"/><text x="2358" y="737" textLength="169" lengthAdjust="spacingAndGlyphs">PHPlot_Data::PHPlot_Data</text></g>
</svg>
